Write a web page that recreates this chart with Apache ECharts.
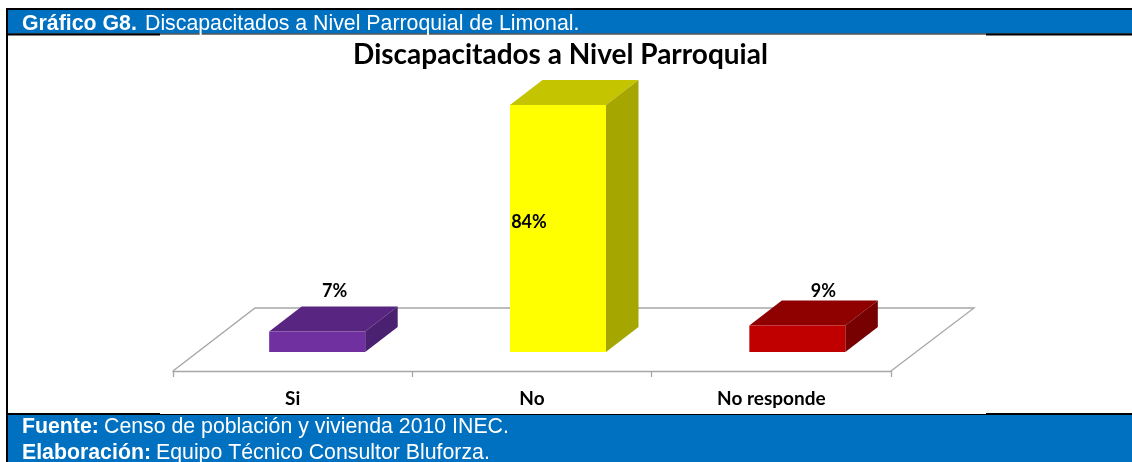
<!DOCTYPE html>
<html><head><meta charset="utf-8">
<style>html,body{margin:0;padding:0;background:#fff}#c{width:1132px;height:462px}</style>
<script src="https://cdn.jsdelivr.net/npm/echarts@6/dist/echarts.min.js"></script>
</head><body><div id="c"></div>
<script>
const categories = ['Si', 'No', 'No responde'];
const values = [7, 84, 9];
const frontColors = ['#7030A0', '#FFFF00', '#C00000'];
const topColors = ['#582680', '#C4C400', '#8F0000'];
const sideColors = ['#4A2070', '#A6A600', '#770000'];
const labelDx = [42, -3, 52];
const barShift = [24.5, 26, 26];
const labelBase = 'Lato, Carlito, sans-serif';
const arial = '"Liberation Sans", Arial, sans-serif';
const blue = '#0070C0';
const DX = 32.5, DY = 25, BAR_W = 96, FLOOR_GAP = 19, FLOOR_DX = 83, FLOOR_DY = 63;

const chart = echarts.init(document.getElementById('c'), null, {renderer: 'canvas'});

function renderFloor(params, api) {
  const cs = params.coordSys;
  const y = cs.y + cs.height + FLOOR_GAP;
  const x0 = cs.x, x1 = cs.x + cs.width;
  return {
    type: 'polyline', silent: true,
    shape: {points: [[x0, y], [x0 + 82, y - FLOOR_DY], [x1 + FLOOR_DX, y - FLOOR_DY], [x1, y]]},
    style: {fill: 'none', stroke: '#A6A6A6', lineWidth: 1.3}
  };
}
function renderBar(params, api) {
  const i = api.value(0);
  const base = api.coord([i, 0]);
  const top = api.coord([i, api.value(1)]);
  const x0 = base[0] + barShift[i] - BAR_W / 2, x1 = x0 + BAR_W;
  const yb = base[1], yt = top[1];
  const poly = (pts, fill) => ({type: 'polygon', shape: {points: pts}, style: {fill}});
  return {type: 'group', children: [
    poly([[x0, yt], [x1, yt], [x1 + DX, yt - DY], [x0 + DX, yt - DY]], topColors[i]),
    poly([[x1, yt], [x1 + DX, yt - DY], [x1 + DX, yb - DY], [x1, yb]], sideColors[i]),
    poly([[x0, yt], [x1, yt], [x1, yb], [x0, yb]], frontColors[i])
  ]};
}
function renderLabel(params, api) {
  const i = api.value(0), v = api.value(1);
  const p = api.coord([i, v]);
  const base = api.coord([i, 0]);
  const inside = v > 50;
  const y = inside ? (p[1] + base[1]) / 2 - 6 : p[1] - DY - (i === 0 ? 15 : 9);
  return {type: 'text', style: {
    text: v + '%', x: p[0] + labelDx[i], y,
    align: 'center', verticalAlign: 'middle',
    font: 'bold 18px ' + labelBase, fill: '#000'
  }};
}
const bar = (x, y, width, height, fill, z) => ({type: 'rect', z, silent: true, shape: {x, y, width, height}, style: {fill}});
const txt = (x, y, text, bold) => ({type: 'text', z: 6, silent: true, style: {x, y, verticalAlign: 'middle', text, font: (bold ? 'bold ' : '') + '21.3px ' + arial, fill: '#fff'}});

chart.setOption({
  animation: false,
  backgroundColor: '#fff',
  grid: {left: 173, right: 241, top: 105, bottom: 110},
  xAxis: {
    type: 'category', data: categories, offset: 19,
    axisLine: {onZero: false, lineStyle: {color: '#A6A6A6', width: 1.3}},
    axisTick: {show: true, alignWithLabel: false, length: 6, lineStyle: {color: '#A6A6A6', width: 1.3}},
    axisLabel: {margin: 18, fontFamily: labelBase, fontWeight: 'bold', fontSize: 19, color: '#000', letterSpacing: 1.5}
  },
  yAxis: {type: 'value', min: 0, max: 84, show: false, splitLine: {show: false}},
  series: [
    {type: 'custom', coordinateSystem: 'cartesian2d', renderItem: renderFloor, data: [[0, 0]], silent: true, z: 1},
    {type: 'custom', coordinateSystem: 'cartesian2d', renderItem: renderBar, encode: {x: 0, y: 1},
      data: values.map((v, i) => [i, v]), z: 2},
    {type: 'custom', coordinateSystem: 'cartesian2d', renderItem: renderLabel, encode: {x: 0, y: 1},
      data: values.map((v, i) => [i, v]), z: 3}
  ],
  graphic: [
    bar(6, 8, 1126, 2, '#000', 5),
    bar(6, 8, 2, 454, '#000', 5),
    bar(8, 10, 1124, 23.5, blue, 5),
    bar(8, 33.5, 1124, 1, '#000', 5),
    bar(8, 33.5, 152, 2, '#000', 5),
    bar(986, 33.5, 146, 2, '#000', 5),
    bar(8, 414, 1124, 1, '#000', 5),
    bar(8, 413, 152, 2, '#000', 5),
    bar(986, 413, 146, 2, '#000', 5),
    bar(8, 415, 1124, 47, blue, 5),
    txt(22, 24, 'Gráfico G8.', true),
    txt(145, 24, 'Discapacitados a Nivel Parroquial de Limonal.', false),
    txt(22, 427, 'Fuente:', true),
    txt(104, 427, 'Censo de población y vivienda 2010 INEC.', false),
    txt(22, 453, 'Elaboración:', true),
    txt(156, 453, 'Equipo Técnico Consultor Bluforza.', false),
    {type: 'text', z: 6, silent: true, style: {x: 560.5, y: 55, align: 'center', verticalAlign: 'middle', text: 'Discapacitados a Nivel Parroquial', font: 'bold 28px ' + labelBase, fill: '#000'}}
  ]
});
</script></body></html>
